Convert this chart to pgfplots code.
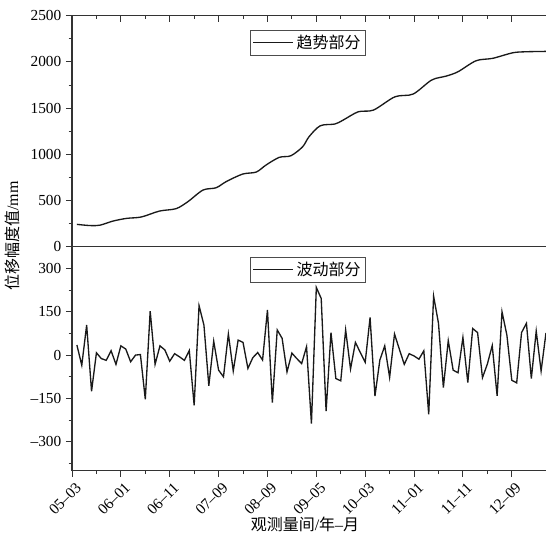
\documentclass[border=0pt]{standalone}
\usepackage{fontspec}
\setmainfont{Liberation Serif}
\newfontfamily\cjk{Noto Sans CJK SC}
\usepackage{pgfplots}
\pgfplotsset{compat=1.18}

\pgfplotsset{
  panel/.style={
    scale only axis, width=355.5pt, xmin=0, xmax=97,
    axis y line*=left, axis x line*=box,
    axis line style={black!80, line width=0.8pt},
    every tick/.style={black!80, line width=0.7pt},
    major tick length=4.5pt, minor tick length=2.5pt,
    xtick={0,10,...,90}, minor x tick num=1,
    ytick pos=left, ytick align=outside,
    tick label style={font=\fontsize{11.5}{13}\selectfont},
    legend cell align=left,
    legend style={draw=black!70, line width=0.5pt, inner sep=1.5pt,
      font=\fontsize{12}{14}\selectfont\cjk, anchor=north west},
    legend image code/.code={\draw[#1] (0pt,0pt) -- (30pt,0pt);},
  },
  curve/.style={black!90, line width=1pt, mark=none},
}

\begin{document}
\begin{tikzpicture}
% upper panel: trend
\begin{axis}[panel, at={(0,168pt)}, height=173.25pt,
  ymin=0, ymax=2500, ytick={0,500,...,2500},
  yticklabels={0,500,1000,1500,2000,2500}, minor y tick num=1,
  xtick pos=right, xtick align=inside, xticklabels={},
  legend style={at={(0.376,0.938)}}]
\addplot[curve, smooth] coordinates {
(1,242) (3.7,229) (5.7,233) (8.4,278) (11.2,307) (14.2,322) (17.9,386)
(21.3,412) (23.7,487) (26.8,613) (29.5,638) (31.5,703) (34.9,786)
(37.7,808) (39.7,884) (42.4,967) (44.8,985) (47.2,1082) (48.5,1190)
(50.8,1309) (53.8,1328) (55.5,1371) (58.6,1461) (61.7,1479) (66.1,1623)
(69.8,1652) (73.6,1804) (76.6,1847) (79,1894) (82.7,2013) (86.1,2039)
(90.2,2099) (92.9,2110) (97,2114) };
\addlegendentry{趋势部分}
\end{axis}
% lower panel: fluctuation
\begin{axis}[panel, height=168pt,
  ymin=-400, ymax=375, ytick={-300,-150,0,150,300},
  yticklabels={–300,–150,0,150,300},
  minor ytick={-375,-225,-75,75,225,375},
  xtick pos=left, xtick align=outside,
  xticklabels={05–03,06–01,06–11,07–09,08–09,09–05,10–03,11–01,11–11,12–09},
  xticklabel style={rotate=45, anchor=east, xshift=2.5pt, yshift=-8pt},
  legend style={at={(0.376,0.955)}}]
\addplot[curve] coordinates {
(1,35) (2,-35) (3,104) (4,-125) (5,8) (6,-12) (7,-18) (8,15) (9,-32) (10,32)
(11,21) (12,-23) (13,0) (14,2) (15,-153) (16,152) (17,-32) (18,32) (19,18) (20,-21)
(21,5) (22,-6) (23,-18) (24,16) (25,-174) (26,171) (27,104) (28,-106) (29,48) (30,-52)
(31,-75) (32,73) (33,-55) (34,52) (35,44) (36,-46) (37,-9) (38,9) (39,-17) (40,156)
(41,-164) (42,87) (43,58) (44,-58) (45,7) (46,-12) (47,-29) (48,29) (49,-237) (50,234)
(51,196) (52,-194) (53,78) (54,-81) (55,-89) (56,87) (57,-48) (58,44) (59,9) (60,-25)
(61,130) (62,-142) (63,-17) (64,32) (65,-77) (66,73) (67,20) (68,-32) (69,5) (70,-3)
(71,-14) (72,15) (73,-205) (74,204) (75,110) (76,-112) (77,50) (78,-52) (79,-61) (80,61)
(81,-95) (82,92) (83,78) (84,-78) (85,-31) (86,33) (87,-141) (88,150) (89,69) (90,-87)
(91,-96) (92,78) (93,110) (94,-81) (95,83) (96,-55) (97,77) };
\addlegendentry{波动部分}
\end{axis}
\node[rotate=90, font=\fontsize{12}{14}\selectfont] at (-45pt,176pt) {{\cjk 位移幅度值}/mm};
\node[font=\fontsize{12}{14}\selectfont] at (174.75pt,-40.5pt) {{\cjk 观测量间}/{\cjk 年}–{\cjk 月}};
\pgfresetboundingbox
\useasboundingbox (-54pt,-48pt) rectangle (355.5pt,353.05pt);
\end{tikzpicture}
\end{document}
